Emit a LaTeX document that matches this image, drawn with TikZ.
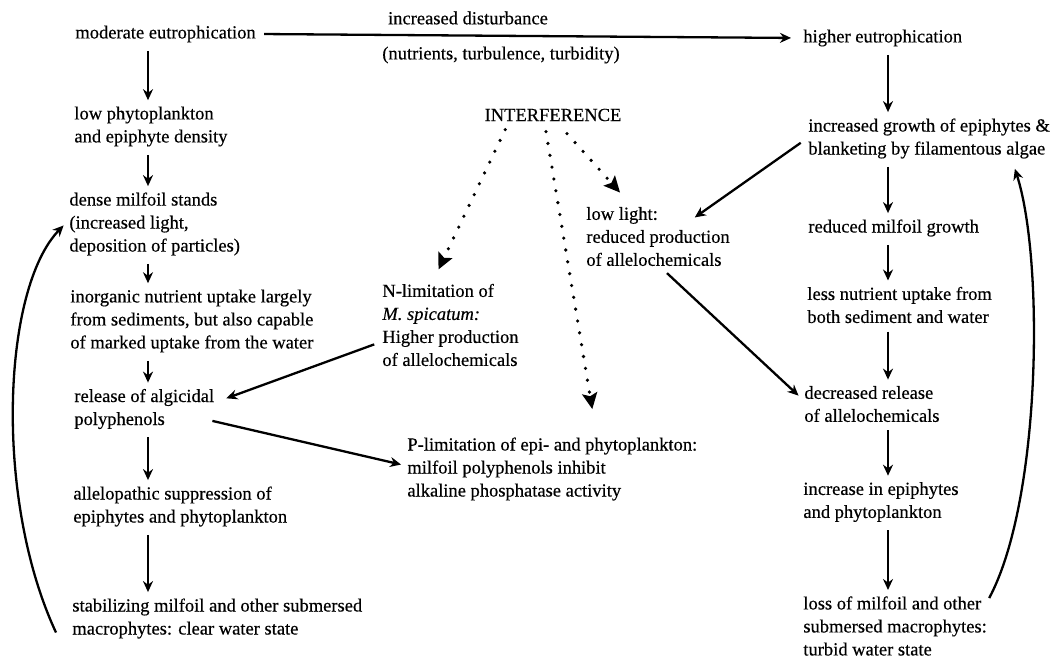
\documentclass[tikz,border=0pt]{standalone}
\usepackage{fontspec}
\setmainfont{Liberation Serif}[FakeBold=0.4]
\usetikzlibrary{arrows.meta}

\tikzset{
  txt/.style={anchor=west, align=left, inner sep=2pt, font=\fontsize{9.25}{11.5}\selectfont},
  lbl/.style={inner sep=2pt, font=\fontsize{9.25}{11.5}\selectfont},
  flow/.style={->, line width=1.15pt, shorten <=2pt, shorten >=1pt},
  dotflow/.style={-{Stealth[length=8pt,width=7.5pt,inset=1.5pt]}, line width=1.8pt, line cap=round, dash pattern=on 0pt off 6pt},
}

\begin{document}
\begin{tikzpicture}[x=0.5pt, y=-0.5pt, >={Stealth[length=5.5pt,width=5pt]}]
	\useasboundingbox[fill=white] (0,0) rectangle (1061,659);
	
	% clear water side
	\node[txt] (modeut) at (71,34) {moderate eutrophication};
	\node[txt] (lowphyto) at (70,126.5) {low phytoplankton\\and epiphyte density};
	\node[txt] (dense) at (65,224) {dense milfoil stands\\(increased light,\\deposition of particles)};
	\node[txt] (inorg) at (66,321) {inorganic nutrient uptake largely\\from sediments, but also capable\\of marked uptake from the water};
	\node[txt] (release) at (70,409) {release of algicidal\\polyphenols};
	\node[txt] (allelo) at (69,506.5) {allelopathic suppression of\\epiphytes and phytoplankton};
	\node[txt] (stab) at (68,618.5) {stabilizing milfoil and other submersed\\macrophytes: clear water state};
	
	% disturbance
	\node[lbl] (dist) at (468,18) {increased disturbance};
	\node[lbl] (distwhy) at (501,55) {(nutrients, turbulence, turbidity)};
	
	% interference
	\node[lbl] (interf) at (553,115) {INTERFERENCE};
	\node[txt] (lowlight) at (582,236.5) {low light:\\reduced production\\of allelochemicals};
	\node[txt] (nlim) at (378,325) {N-limitation of\\\textit{M. spicatum:}\\Higher production\\of allelochemicals};
	\node[txt] (plim) at (403,469) {P-limitation of epi- and phytoplankton:\\milfoil polyphenols inhibit\\alkaline phosphatase activity};
	
	% turbid water side
	\node[txt] (higheut) at (799,38) {higher eutrophication};
	\node[txt] (incgrowth) at (804,138.5) {increased growth of epiphytes \&\\blanketing by filamentous algae};
	\node[txt] (redmil) at (804,228) {reduced milfoil growth};
	\node[txt] (lessnut) at (803,305) {less nutrient uptake from\\both sediment and water};
	\node[txt] (decrel) at (800,404) {decreased release\\of allelochemicals};
	\node[txt] (increase) at (799,502) {increase in epiphytes\\and phytoplankton};
	\node[txt] (loss) at (799,626) {loss of milfoil and other\\submersed macrophytes:\\turbid water state};
	
	\coordinate (colL) at (148,0);
	\coordinate (colR) at (888,0);
	
	% vertical chains
	\draw[flow] (modeut.south -| colL) -- (lowphyto.north -| colL);
	\draw[flow] (lowphyto.south -| colL) -- (dense.north -| colL);
	\draw[flow] (dense.south -| colL) -- (inorg.north -| colL);
	\draw[flow] (inorg.south -| colL) -- (release.north -| colL);
	\draw[flow] (release.south -| colL) -- (allelo.north -| colL);
	\draw[flow] (allelo.south -| colL) -- (stab.north -| colL);
	
	\draw[flow] (higheut.south -| colR) -- (incgrowth.north -| colR);
	\draw[flow] (incgrowth.south -| colR) -- (redmil.north -| colR);
	\draw[flow] (redmil.south -| colR) -- (lessnut.north -| colR);
	\draw[flow] (lessnut.south -| colR) -- (decrel.north -| colR);
	\draw[flow] (decrel.south -| colR) -- (increase.north -| colR);
	\draw[flow] (increase.south -| colR) -- (loss.north -| colR);
	
	% across
	\draw[flow, shorten >=4pt] (modeut.east) -- (higheut.west);
	\draw[flow] ([yshift=-9pt]nlim.west) -- ([xshift=3pt,yshift=5pt]release.east);
	\draw[flow] ([xshift=-5pt,yshift=-5.5pt]release.east) -- ([yshift=2pt]plim.west);
	\draw[flow] ([yshift=-1pt]incgrowth.west) -- ([xshift=-20.5pt,yshift=-8pt]lowlight.north east);
	\draw[flow] ([xshift=3pt]lowlight.south) -- ([yshift=3.5pt]decrel.west);
	
	% interference paths
	\draw[dotflow] ([xshift=12.5pt,yshift=-2pt]interf.south west) -- ([xshift=-6pt,yshift=5pt]nlim.north);
	\draw[dotflow] ([xshift=-3.5pt,yshift=-3pt]interf.south) -- ([xshift=20pt,yshift=12pt]plim.north);
	\draw[dotflow] ([xshift=7pt,yshift=-4pt]interf.south) -- ([xshift=-19pt,yshift=5pt]lowlight.north);
	
	% feedback loops
	\draw[flow, shorten <=0pt] ([xshift=-6pt,yshift=-7pt]stab.west) .. controls +(-62,-133) and +(-63,65) .. (dense.west);
	\draw[flow, shorten <=0pt] ([xshift=-1pt,yshift=-3pt]loss.north east) .. controls +(52,-97) and +(30,93) .. ([xshift=-20pt,yshift=-2pt]incgrowth.south east);
\end{tikzpicture}
\end{document}
